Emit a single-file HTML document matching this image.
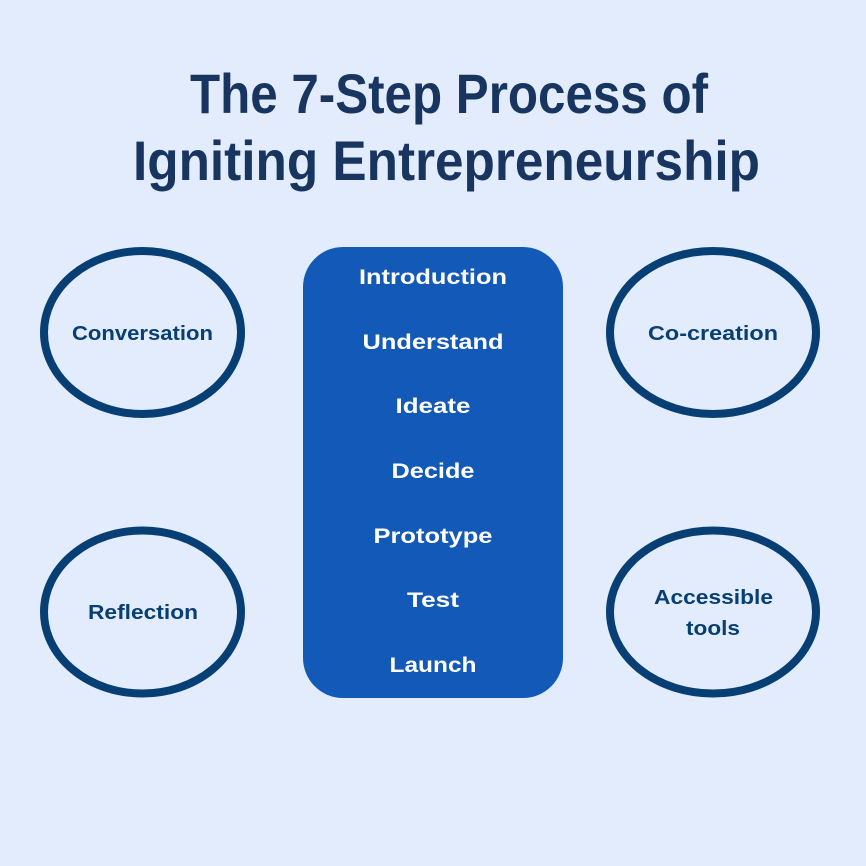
<!DOCTYPE html>
<html><head><meta charset="utf-8"><style>
html,body{margin:0;padding:0;background:#e2ecfc;}
svg{display:block;}
text{font-family:"Liberation Sans",sans-serif;font-weight:bold;}
</style></head><body>
<svg width="866" height="866" viewBox="0 0 866 866" xmlns="http://www.w3.org/2000/svg">
<rect width="866" height="866" fill="#e2ecfc"/>
<g fill="#17355f" font-size="56">
<text x="190" y="113" textLength="518" lengthAdjust="spacingAndGlyphs">The 7-Step Process of</text>
<text x="133" y="180" textLength="627" lengthAdjust="spacingAndGlyphs">Igniting Entrepreneurship</text>
</g>
<rect x="303" y="247" width="260" height="451" rx="40" fill="#1359b7"/>
<g fill="#ffffff" font-size="21" text-anchor="middle" lengthAdjust="spacingAndGlyphs">
<text x="433" y="284" textLength="148" lengthAdjust="spacingAndGlyphs">Introduction</text>
<text x="433" y="349" textLength="141" lengthAdjust="spacingAndGlyphs">Understand</text>
<text x="433" y="413" textLength="75" lengthAdjust="spacingAndGlyphs">Ideate</text>
<text x="433" y="478" textLength="83" lengthAdjust="spacingAndGlyphs">Decide</text>
<text x="433" y="543" textLength="119" lengthAdjust="spacingAndGlyphs">Prototype</text>
<text x="433" y="607" textLength="52" lengthAdjust="spacingAndGlyphs">Test</text>
<text x="433" y="672" textLength="87" lengthAdjust="spacingAndGlyphs">Launch</text>
</g>
<g fill="none" stroke="#073f74" stroke-width="8">
<ellipse cx="142.5" cy="332.5" rx="98.5" ry="81.5"/>
<ellipse cx="713" cy="332.5" rx="103" ry="81.5"/>
<ellipse cx="142.5" cy="612" rx="98.5" ry="81.5"/>
<ellipse cx="713" cy="612" rx="103" ry="81.5"/>
</g>
<g fill="#073f74" font-size="20" text-anchor="middle">
<text x="142.5" y="340" textLength="141" lengthAdjust="spacingAndGlyphs">Conversation</text>
<text x="713" y="340" textLength="130" lengthAdjust="spacingAndGlyphs">Co-creation</text>
<text x="143" y="619" textLength="110" lengthAdjust="spacingAndGlyphs">Reflection</text>
<text x="713.5" y="604" textLength="119" lengthAdjust="spacingAndGlyphs">Accessible</text>
<text x="713" y="635" textLength="54" lengthAdjust="spacingAndGlyphs">tools</text>
</g>
</svg>
</body></html>
